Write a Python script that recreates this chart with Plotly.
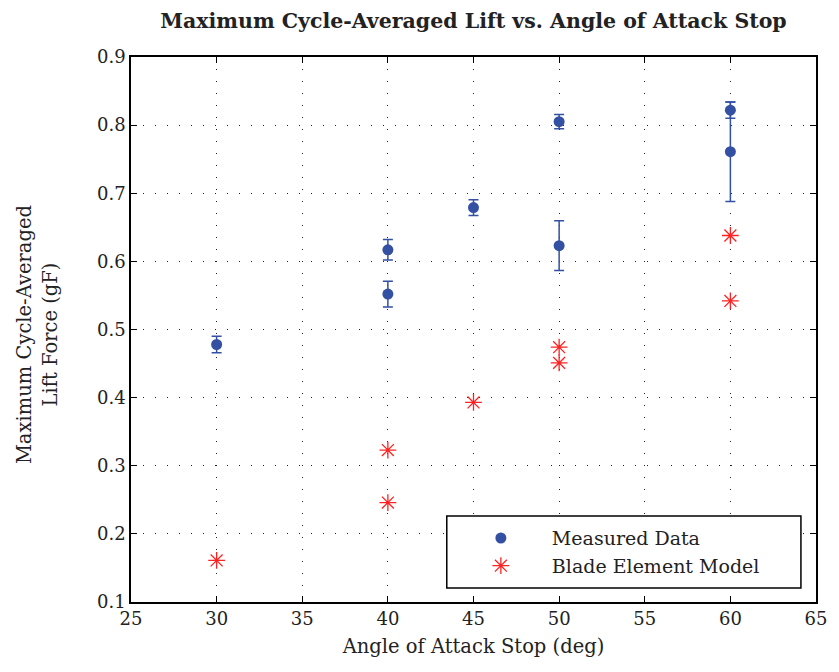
import plotly.graph_objects as go

# Measured data
meas_x = [30, 40, 40, 45, 50, 50, 60, 60]
meas_y = [0.478, 0.617, 0.552, 0.679, 0.805, 0.623, 0.822, 0.761]
meas_err = [0.012, 0.015, 0.019, 0.0115, 0.0105, 0.0365, 0.012, 0.073]

# Blade element model
bem_x = [30, 40, 40, 45, 50, 50, 60, 60]
bem_y = [0.161, 0.323, 0.246, 0.393, 0.474, 0.451, 0.638, 0.542]

x_ticks = [25, 30, 35, 40, 45, 50, 55, 60, 65]
y_ticks = [0.1, 0.2, 0.3, 0.4, 0.5, 0.6, 0.7, 0.8, 0.9]

FONT = "DejaVu Serif"
TXT = "#222222"
BLUE = "#3350A3"
RED = "#FF2222"

fig = go.Figure()
fig.add_trace(go.Scatter(
    x=meas_x, y=meas_y, mode="markers", name="Measured Data",
    marker=dict(color=BLUE, size=11, symbol="circle"),
    error_y=dict(type="data", array=meas_err, visible=True, color=BLUE,
                 thickness=1.5, width=5),
))
fig.add_trace(go.Scatter(
    x=bem_x, y=bem_y, mode="markers", name="Blade Element Model",
    marker=dict(color=RED, size=14, symbol="asterisk-open",
                line=dict(color=RED, width=1.3)),
))

axis_common = dict(
    showline=True, linecolor="black", linewidth=1.5, mirror="ticks",
    ticks="inside", ticklen=6, tickwidth=1, tickcolor="black",
    showgrid=True, gridcolor="#222222", gridwidth=1, griddash="1px,11px",
    zeroline=False,
    tickfont=dict(family=FONT, size=18, color=TXT),
)

fig.update_xaxes(range=[25, 65], tickvals=x_ticks,
                 ticktext=[str(v) for v in x_ticks],
                 title=dict(text="Angle of Attack Stop (deg)",
                            font=dict(family=FONT, size=19.5, color=TXT),
                            standoff=11),
                 **axis_common)
fig.update_yaxes(range=[0.1, 0.9], tickvals=y_ticks,
                 ticktext=[f"{v:.1f}" for v in y_ticks],
                 **axis_common)

fig.add_annotation(
    text="Maximum Cycle-Averaged<br>Lift Force (gF)",
    xref="paper", yref="paper", x=-0.137, y=0.49,
    xanchor="center", yanchor="middle", textangle=-90, showarrow=False,
    font=dict(family=FONT, size=19.5, color=TXT),
)

# legend box
fig.add_shape(type="rect", xref="paper", yref="paper",
              x0=0.461, x1=0.978, y0=0.0257, y1=0.158,
              line=dict(color="black", width=1.5), fillcolor="white",
              layer="above")

fig.update_layout(
    width=839, height=672,
    margin=dict(l=131, r=12, t=57, b=70),
    paper_bgcolor="white", plot_bgcolor="white",
    title=dict(text="<b>Maximum Cycle-Averaged Lift vs. Angle of Attack Stop</b>",
               x=0.5, xref="paper", y=1 - 21 / 672, yref="container",
               xanchor="center", yanchor="middle",
               font=dict(family=FONT, size=20.5, color=TXT)),
    legend=dict(x=0.4655, y=0.152, xanchor="left", yanchor="top",
                bgcolor="rgba(0,0,0,0)", borderwidth=0,
                itemwidth=92, tracegroupgap=0,
                font=dict(family=FONT, size=19, color=TXT)),
    showlegend=True,
)

fig.write_html("out.html")
